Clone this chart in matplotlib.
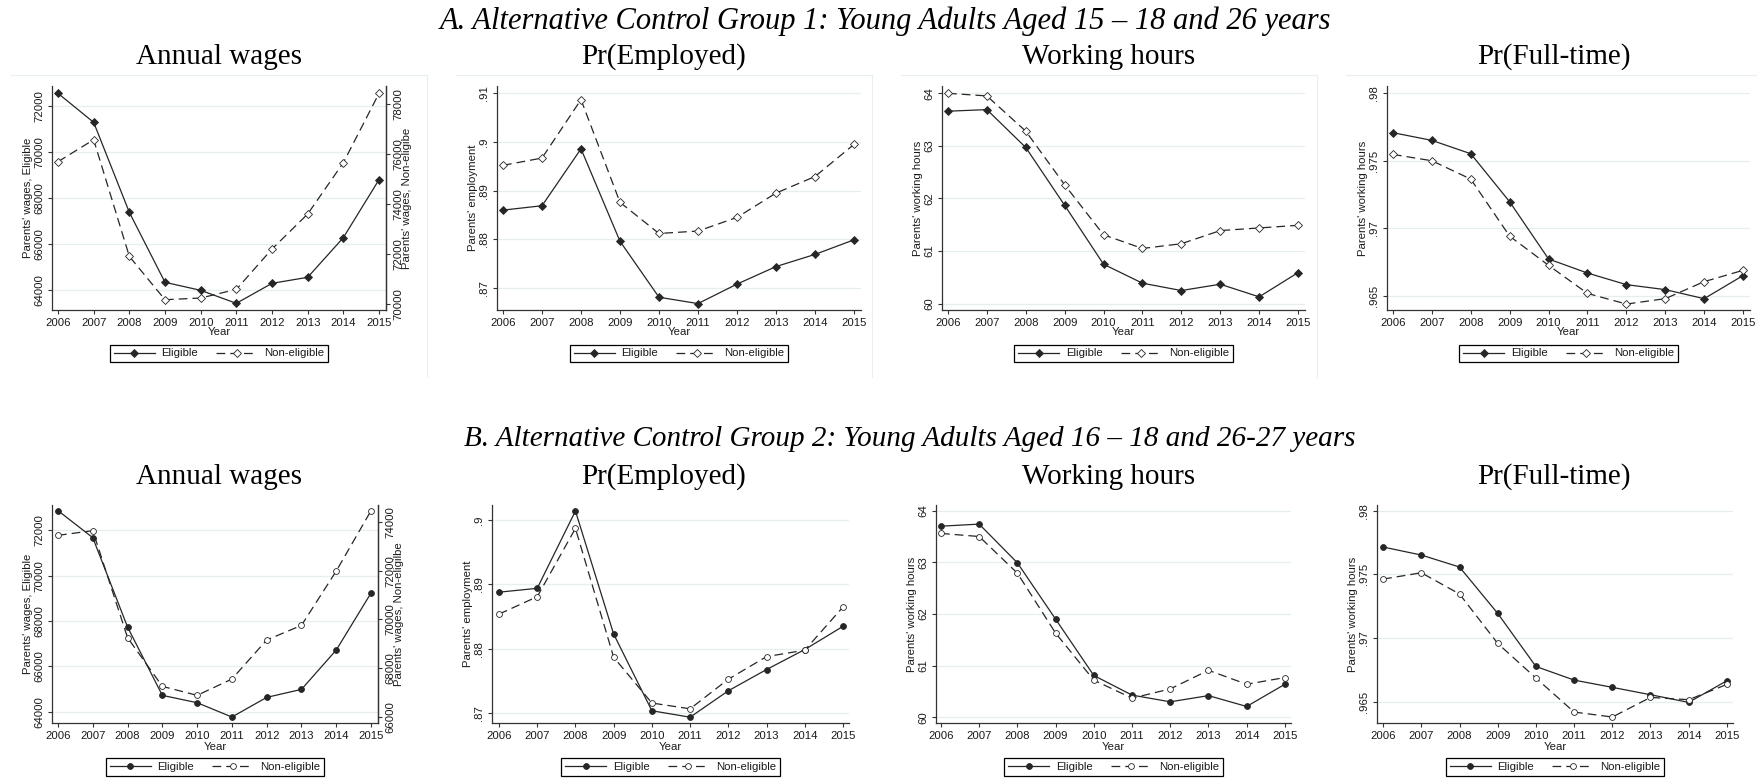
import matplotlib
matplotlib.use('Agg')
import matplotlib.pyplot as plt
from matplotlib.lines import Line2D
from matplotlib.ticker import FixedLocator, FixedFormatter

W, H = 1758, 779
DPI = 100

years = list(range(2006, 2016))

# ---------------- Panel A data ----------------
a_wage_elig = [72551, 71290, 67377, 64333, 63986, 63420, 64290, 64551, 66276, 68797]
a_wage_non = [75680, 76560, 71893, 70160, 70227, 70573, 72187, 73587, 75640, 78413]
a_emp_elig = [.8860, .8869, .8986, .8796, .8681, .8668, .8708, .8744, .8769, .8799]
a_emp_non = [.8952, .8967, .9087, .8876, .8812, .8817, .8845, .8895, .8929, .8995]
a_hrs_elig = [63.66, 63.69, 62.97, 61.87, 60.75, 60.39, 60.25, 60.37, 60.13, 60.59]
a_hrs_non = [64.00, 63.95, 63.28, 62.26, 61.31, 61.05, 61.14, 61.39, 61.44, 61.49]
a_ft_elig = [.97708, .97651, .97552, .97196, .96772, .96668, .96582, .96545, .96478, .96649]
a_ft_non = [.97547, .97500, .97364, .96941, .96725, .96517, .96438, .96478, .96604, .96688]

# ---------------- Panel B data ----------------
b_wage_elig = [72868, 71676, 67735, 64721, 64397, 63765, 64632, 64985, 66721, 69235]
b_wage_non = [73452, 73644, 69247, 67247, 66877, 67548, 69151, 69753, 71986, 74466]
b_emp_elig = [.8888, .8894, .9014, .8823, .8704, .8694, .8735, .8768, .8799, .8835]
b_emp_non = [.8854, .8881, .8987, .8787, .8716, .8707, .8753, .8788, .8798, .8865]
b_hrs_elig = [63.70, 63.74, 62.99, 61.90, 60.81, 60.43, 60.30, 60.42, 60.21, 60.64]
b_hrs_non = [63.56, 63.50, 62.79, 61.63, 60.72, 60.37, 60.55, 60.91, 60.64, 60.77]
b_ft_elig = [.97715, .97652, .97558, .97194, .96777, .96670, .96613, .96555, .96495, .96665]
b_ft_non = [.97463, .97513, .97346, .96958, .96686, .96419, .96380, .96534, .96516, .96636]

title_a = "A. Alternative Control Group 1: Young Adults Aged 15 \u2013 18 and 26 years"
title_b = "B. Alternative Control Group 2: Young Adults Aged 16 \u2013 18 and 26-27 years"
subtitles = ["Annual wages", "Pr(Employed)", "Working hours", "Pr(Full-time)"]
ylabels = ["Parents' wages, Eligible", "Parents' employment",
           "Parents' working hours", "Parents' working hours"]
ylabel_right_a = "Parents' wages, Non-eligibe"
ylabel_right_b = "Parents' wages, Non-eligilbe"
legend_labels = ["Eligible", "Non-eligible"]

wage_ticks_left = [64000, 66000, 68000, 70000, 72000]
a_wage_ticks_right = [70000, 72000, 74000, 76000, 78000]
b_wage_ticks_right = [66000, 68000, 70000, 72000, 74000]
a_emp_ticks = [.87, .88, .89, .90, .91]
a_emp_labels = [".87", ".88", ".89", ".9", ".91"]
b_emp_ticks = [.87, .88, .89, .90]
b_emp_labels = [".87", ".88", ".89", ".9"]
hrs_ticks = [60, 61, 62, 63, 64]
ft_ticks = [.965, .97, .975, .98]
ft_labels = [".965", ".97", ".975", ".98"]

LINE_C = '#262626'
GRID_C = '#E6EEEF'
TXT_C = '#1a1a1a'
SANS = 'Liberation Sans'
SERIF = 'Liberation Serif'

fig = plt.figure(figsize=(W / DPI, H / DPI), dpi=DPI)
fig.patch.set_facecolor('white')


def fx(px):
    return px / W


def fy(py):
    return 1 - py / H


def make_axes(l, r, top, bot):
    return fig.add_axes([fx(l), fy(bot), fx(r - l), (bot - top) / H])


def style_axes(ax, xlim, ylim, yticks, ylabels_txt, right_spine=False):
    ax.set_xlim(*xlim)
    ax.set_ylim(*ylim)
    for s in ['top', 'right']:
        ax.spines[s].set_visible(False)
    if right_spine:
        ax.spines['right'].set_visible(True)
    for s in ['left', 'bottom', 'right']:
        ax.spines[s].set_color('#333333')
        ax.spines[s].set_linewidth(0.9)
    ax.set_xticks(years)
    ax.set_xticklabels([str(y) for y in years])
    ax.yaxis.set_major_locator(FixedLocator(yticks))
    ax.yaxis.set_major_formatter(FixedFormatter(ylabels_txt))
    ax.tick_params(axis='both', direction='out', length=3, width=0.8,
                   colors='#333333', labelsize=8.2, pad=2.5)
    ax.tick_params(axis='y', labelrotation=90)
    for lbl in ax.get_yticklabels():
        lbl.set_va('center')
        lbl.set_family(SANS)
        lbl.set_color(TXT_C)
    for lbl in ax.get_xticklabels():
        lbl.set_family(SANS)
        lbl.set_color(TXT_C)
    for t in yticks:
        ax.axhline(t, color=GRID_C, lw=0.9, zorder=0)


def draw_series(ax, y, filled, marker, ms):
    if filled:
        h, = ax.plot(years, y, color=LINE_C, lw=0.9, marker=marker, ms=ms,
                     mfc=LINE_C, mec=LINE_C, mew=0.6, zorder=3)
    else:
        h, = ax.plot(years, y, color=LINE_C, lw=0.9, ls=(0, (7, 4)),
                     marker=marker, ms=ms, mfc='white', mec=LINE_C, mew=0.6, zorder=3)
    return h


def add_ylabel(ax_left_px, offset_px, top, bot, text):
    fig.text(fx(ax_left_px - offset_px), fy((top + bot) / 2), text, rotation=90,
             ha='center', va='center', fontsize=8.2, family=SANS, color=TXT_C)


def add_legend(handles, cx, cy):
    leg = fig.legend(handles, legend_labels, loc='center',
                     bbox_to_anchor=(fx(cx), fy(cy)), ncol=2, frameon=True,
                     fancybox=False, edgecolor='black', framealpha=1,
                     prop={'family': SANS, 'size': 8.2}, handlelength=3.6,
                     handletextpad=0.6, columnspacing=1.6, borderpad=0.35,
                     numpoints=1, borderaxespad=0)
    leg.get_frame().set_linewidth(0.9)
    for t in leg.get_texts():
        t.set_color(TXT_C)


def draw_row(row, cfg):
    (top, bot, boxes, xlims, ylims, ticks, tlabels, data, marker, ms,
     wage_right, wage_right_lim, wage_right_ticks, yr_off, leg_y, rlabel,
     sub_y, centers) = cfg
    for i in range(4):
        l, r = boxes[i]
        ax = make_axes(l, r, top, bot)
        style_axes(ax, xlims[i], ylims[i], ticks[i], tlabels[i], right_spine=(i == 0))
        e, n = data[i]
        if i == 0:
            h1 = draw_series(ax, e, True, marker, ms)
            ax2 = ax.twinx()
            ax2.set_position(ax.get_position())
            ax2.set_xlim(*xlims[i])
            ax2.set_ylim(*wage_right_lim)
            for s in ['top', 'left', 'bottom']:
                ax2.spines[s].set_visible(False)
            ax2.spines['right'].set_color('#333333')
            ax2.spines['right'].set_linewidth(0.9)
            ax2.yaxis.set_major_locator(FixedLocator(wage_right_ticks))
            ax2.yaxis.set_major_formatter(FixedFormatter([str(t) for t in wage_right_ticks]))
            ax2.tick_params(axis='y', direction='out', length=3, width=0.8,
                            colors='#333333', labelsize=8.2, pad=2.5, labelrotation=90)
            for lbl in ax2.get_yticklabels():
                lbl.set_va('center')
                lbl.set_family(SANS)
                lbl.set_color(TXT_C)
            h2 = draw_series(ax2, n, False, marker, ms)
            fig.text(fx(r + 21), fy((top + bot) / 2), rlabel, rotation=90,
                     ha='center', va='center', fontsize=8.2, family=SANS, color=TXT_C)
        else:
            h1 = draw_series(ax, e, True, marker, ms)
            h2 = draw_series(ax, n, False, marker, ms)
        add_ylabel(l, 24, top, bot, ylabels[i])
        ax.text(0.5, -yr_off / (bot - top), 'Year', transform=ax.transAxes,
                ha='center', va='center', fontsize=8.2, family=SANS, color=TXT_C)
        add_legend([h1, h2], (l + r) / 2, leg_y)
        fig.text(fx(centers[i]), fy(sub_y), subtitles[i], ha='center', va='baseline',
                 fontsize=21, family=SERIF, color='black')


# faint graph-region borders for row A
for (bl, br) in [(11, 427), (456, 872), (901, 1317), (1346, 1762)]:
    fig.add_artist(Line2D([fx(bl), fx(br)], [fy(75), fy(75)], color='#E9EFEF', lw=0.8))
    fig.add_artist(Line2D([fx(br), fx(br)], [fy(75), fy(377)], color='#E9EFEF', lw=0.8))

cfg_a = (86, 310,
         [(52, 386), (497, 861), (942, 1305), (1387, 1750)],
         [(2005.832, 2015.196), (2005.846, 2015.18), (2005.846, 2015.18), (2005.846, 2015.18)],
         [(63130, 72870), (.86548, .9115), (59.88, 64.139), (.96394, .98054)],
         [wage_ticks_left, a_emp_ticks, hrs_ticks, ft_ticks],
         [[str(t) for t in wage_ticks_left], a_emp_labels, [str(t) for t in hrs_ticks], ft_labels],
         [(a_wage_elig, a_wage_non), (a_emp_elig, a_emp_non),
          (a_hrs_elig, a_hrs_non), (a_ft_elig, a_ft_non)],
         'D', 3.6, True, (69748, 78708), a_wage_ticks_right, 22, 353.5,
         ylabel_right_a, 64, [219, 664, 1109, 1554])

cfg_b = (505, 723,
         [(52, 378), (492, 849), (936, 1291), (1377, 1733)],
         [(2005.828, 2015.2), (2005.817, 2015.157), (2005.87, 2015.16), (2005.84, 2015.16)],
         [(63502, 73117), (.8685, .90233), (59.89, 64.11), (.96333, .98045)],
         [wage_ticks_left, b_emp_ticks, hrs_ticks, ft_ticks],
         [[str(t) for t in wage_ticks_left], b_emp_labels, [str(t) for t in hrs_ticks], ft_labels],
         [(b_wage_elig, b_wage_non), (b_emp_elig, b_emp_non),
          (b_hrs_elig, b_hrs_non), (b_ft_elig, b_ft_non)],
         'o', 4.2, True, (65741, 74699), b_wage_ticks_right, 24, 767,
         ylabel_right_b, 484, [219, 664, 1109, 1554])

draw_row(0, cfg_a)
draw_row(1, cfg_b)

fig.text(fx(885), fy(29), title_a, ha='center', va='baseline', fontsize=22,
         family=SERIF, style='italic', color='black')
fig.text(fx(910), fy(446), title_b, ha='center', va='baseline', fontsize=21,
         family=SERIF, style='italic', color='black')

fig.savefig('out.png', dpi=DPI, facecolor='white')
